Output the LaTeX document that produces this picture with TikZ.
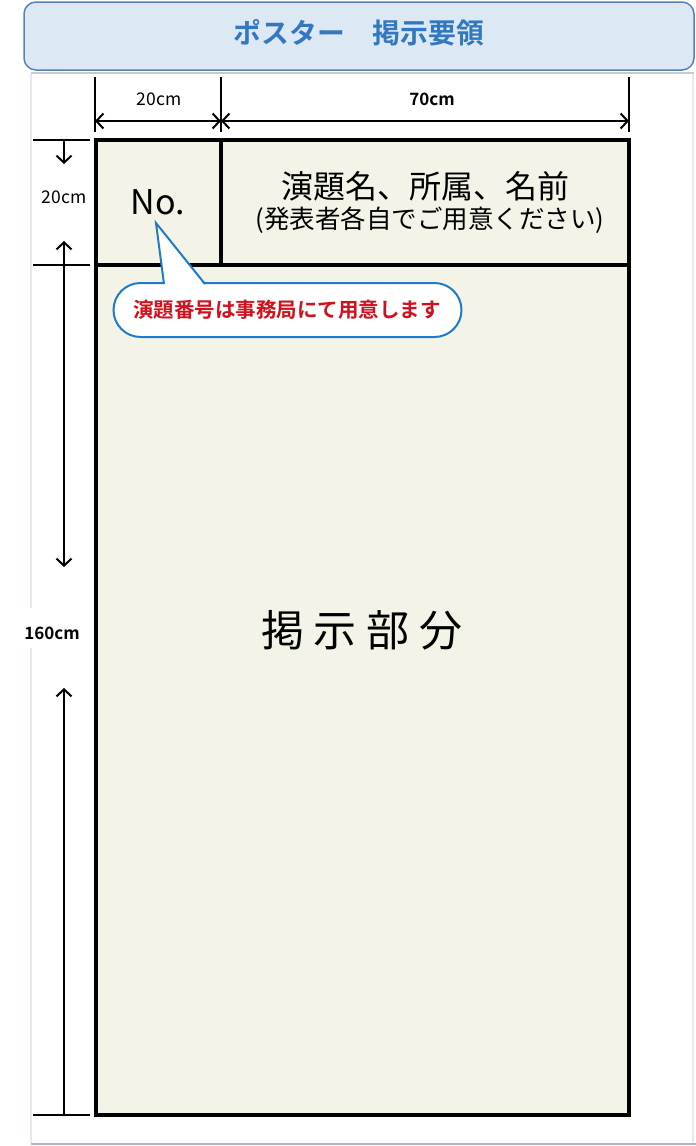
\documentclass[tikz,border=0pt]{standalone}
\usepackage{fontspec}
\usetikzlibrary{arrows.meta}
\newfontfamily\jp{Noto Sans CJK JP}
\newfontfamily\jpb{Noto Sans CJK JP Bold}
\definecolor{hdrfill}{HTML}{DDE8F5}
\definecolor{hdrline}{HTML}{5582B5}
\definecolor{hdrtext}{HTML}{3278BE}
\definecolor{posterfill}{HTML}{F3F3E8}
\definecolor{callblue}{HTML}{1F7BC8}
\definecolor{callred}{HTML}{D2101C}
\definecolor{pageline}{HTML}{E4E9F3}
\definecolor{pagebottom}{HTML}{AEB4BF}
\tikzset{
  dimline/.style={line width=2pt, black},
  dimarrow/.style={line width=2pt, black, {Straight Barb[length=7pt,width=15pt]}-{Straight Barb[length=7pt,width=15pt]}},
  dimtxt/.style={font=\jp\fontsize{17.5}{19}\selectfont, inner sep=0pt},
  dimtxtb/.style={font=\jpb\fontsize{17}{19}\selectfont, inner sep=0pt},
  posterline/.style={line width=3.5pt, black},
}
\begin{document}
\begin{tikzpicture}[x=1pt,y=-1pt]
\useasboundingbox (0,0) rectangle (696,1146);
% page frame
\draw[pageline, line width=1.5pt] (31,74) -- (31,608);
\draw[pageline, line width=1.5pt] (31,648) -- (31,1143);
\draw[pageline, line width=1.5pt] (693,74) -- (693,1143);
\draw[pageline!70!gray, line width=1.5pt] (31,73) -- (694,73);
\draw[pagebottom, line width=2.2pt] (31,1144) -- (696,1144);
% header
\node[draw=hdrline, fill=hdrfill, line width=1.5pt, rounded corners=12pt,
      minimum width=670pt, minimum height=68pt, inner sep=0pt] (hdr) at (359,36) {};
\node[font=\jpb\fontsize{27.8}{30}\selectfont, text=hdrtext, inner sep=0pt] (title) at (359,33) {ポスター　掲示要領};
% poster
\coordinate (pTL) at (96,140);
\coordinate (pBR) at (629,1115);
\coordinate (dTop) at (221,140);
\coordinate (dBot) at (221,265);
\coordinate (hL) at (96,265);
\coordinate (hR) at (629,265);
\fill[posterfill] (pTL) rectangle (pBR);
\draw[posterline] (dTop) -- (dBot);
\draw[posterline] (hL) -- (hR);
\draw[posterline] (pTL) rectangle (pBR);
% texts in poster
\node[font=\jp\fontsize{34}{36}\selectfont, inner sep=0pt] (no) at (158,202) {No.};
\node[font=\jp\fontsize{32}{34}\selectfont, inner sep=0pt] (t1) at (425,186) {演題名、所属、名前};
\node[font=\jp\fontsize{25.5}{27}\selectfont, inner sep=0pt] (t2) at (430,220) {(発表者各自でご用意ください)};
\node[font=\jp\fontsize{43}{45}\selectfont, inner sep=0pt] (main) at (362,630) {掲\hspace{10pt}示\hspace{10pt}部\hspace{10pt}分};
% top dimensions
\coordinate (e1a) at (95,77);  \coordinate (e1b) at (95,132);
\coordinate (e2a) at (221,77); \coordinate (e2b) at (221,132);
\coordinate (e3a) at (629,77); \coordinate (e3b) at (629,132);
\draw[dimline] (e1a) -- (e1b);
\draw[dimline] (e2a) -- (e2b);
\draw[dimline] (e3a) -- (e3b);
\coordinate (a1) at (95,121); \coordinate (a2) at (221,121); \coordinate (a3) at (629,121);
\draw[dimarrow] (a1) -- (a2);
\draw[dimarrow] (a2) -- (a3);
\node[dimtxt] (d20t) at (159,99) {20cm};
\node[dimtxtb] (d70) at (432,99) {70cm};
% left dimensions
\coordinate (t1a) at (33,140);  \coordinate (t1b) at (90,140);
\coordinate (t2a) at (33,265);  \coordinate (t2b) at (90,265);
\coordinate (t3a) at (33,1115); \coordinate (t3b) at (90,1115);
\draw[dimline] (t1a) -- (t1b);
\draw[dimline] (t2a) -- (t2b);
\draw[dimline] (t3a) -- (t3b);
\coordinate (v0) at (64,140);
\coordinate (v1) at (64,164);
\coordinate (v2) at (64,241);
\coordinate (v3) at (64,567);
\coordinate (v4) at (64,688);
\coordinate (v5) at (64,1115);
\draw[dimline, -{Straight Barb[length=7pt,width=15pt]}] (v0) -- (v1);
\draw[dimarrow] (v2) -- (v3);
\draw[dimline, {Straight Barb[length=7pt,width=15pt]}-] (v4) -- (v5);
\node[dimtxt] (d20l) at (64,197) {20cm};
\node[dimtxtb] (d160) at (52,633) {160cm};
% callout
\node[draw=callblue, fill=white, line width=2pt, rounded corners=27pt,
      minimum width=348pt, minimum height=54pt, inner sep=0pt] (call) at (287.5,310) {};
\coordinate (ptip) at (156,223);
\coordinate (pl) at (164,284);
\coordinate (pr) at (205,284);
\fill[white] (ptip) -- (164,286) -- (205,286) -- cycle;
\draw[callblue, line width=2pt, line join=miter] (pl) -- (ptip) -- (pr);
\node[font=\jpb\fontsize{20.5}{22}\selectfont, text=callred, inner sep=0pt] (calltxt) at (287,310) {演題番号は事務局にて用意します};
\end{tikzpicture}
\end{document}
